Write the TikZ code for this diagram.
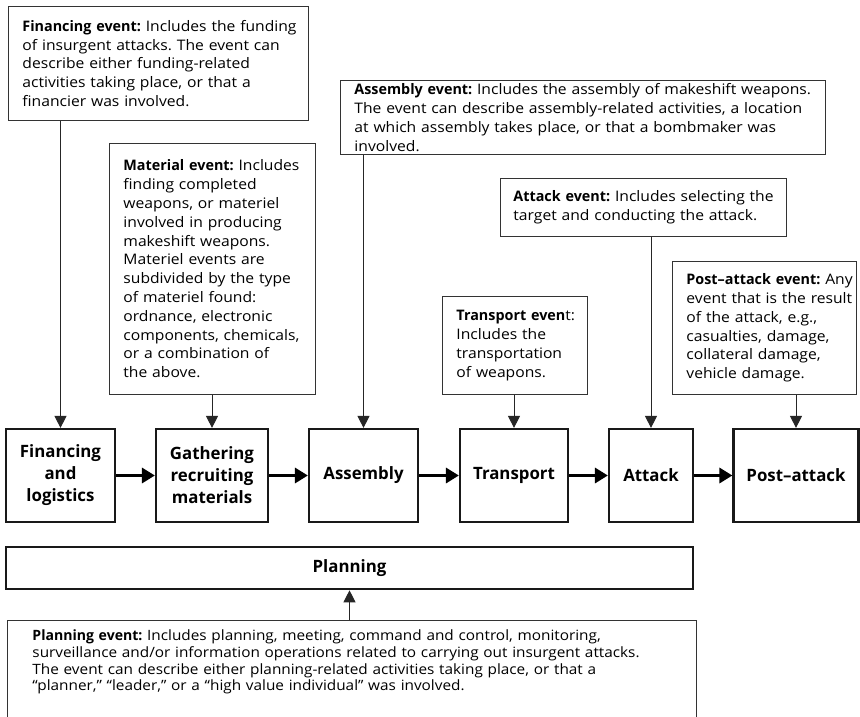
\documentclass[tikz,border=0pt]{standalone}
\usepackage{fontspec}
\setmainfont{Open Sans}[FakeStretch=1.08, BoldFeatures={FakeStretch=0.99}]
\usetikzlibrary{arrows.meta,positioning}
\frenchspacing

\tikzset{
  eventbox/.style={draw=black!80, line width=0.9pt, fill=white, anchor=north west,
    align=left, inner xsep=0pt, inner ysep=0pt, font=\fontsize{14.5}{18.8}\selectfont,
    execute at begin node={\leftskip=#1\rightskip=-14pt plus 1fil\relax}},
  eventbox/.default=14pt,
  stagebox/.style={draw=black!90, line width=2.2pt, align=center, inner sep=0pt,
    font=\fontsize{17}{22}\selectfont\bfseries},
  droparrow/.style={draw=black!85, line width=1pt, -{Triangle[length=12pt,width=12pt]}},
  flowarrow/.style={line width=3.8pt, -{Triangle[length=13pt,width=15pt]}}
}

\begin{document}
\begin{tikzpicture}[x=1pt, y=-1pt]
    \useasboundingbox (0,0) rectangle (860,717);

    % Event descriptions
    \node[eventbox, text width=300pt, minimum height=114pt] (finev) at (8,6)
      {\textbf{Financing event:} Includes the funding\\of insurgent attacks. The event can\\describe either funding-related\\activities taking place, or that a\\financier was involved.};
    \node[eventbox, text width=206pt, minimum height=251pt] (matev) at (109,143)
      {\textbf{Material event:} Includes\\finding completed\\weapons, or materiel\\involved in producing\\makeshift weapons.\\Materiel events are\\subdivided by the type\\of materiel found:\\ordnance, electronic\\components, chemicals,\\or a combination of\\the above.};
    \node[eventbox, text width=485pt, minimum height=74pt] (asmev) at (340,80)
      {\textbf{Assembly event:} Includes the assembly of makeshift weapons.\\The event can describe assembly-related activities, a location\\at which assembly takes place, or that a bombmaker was\\involved.};
    \node[eventbox=13pt, text width=286pt, minimum height=58pt] (attev) at (500,178)
      {\textbf{Attack event:} Includes selecting the\\target and conducting the attack.};
    \node[eventbox, text width=145pt, minimum height=98pt] (trnev) at (442,296)
      {\textbf{Transport even}t:\\Includes the\\transportation\\of weapons.};
    \node[eventbox, text width=184pt, minimum height=133pt] (pstev) at (672,261)
      {\textbf{Post--attack event:} Any\\event that is the result\\of the attack, e.g.,\\casualties, damage,\\collateral damage,\\vehicle damage.};
    \node[eventbox=25pt, text width=689pt, font=\fontsize{14.2}{16.8}\selectfont,
          text height=20pt, text depth=90pt] (plnev) at (7,620)
      {\textbf{Planning event:} Includes planning, meeting, command and control, monitoring,\\surveillance and/or information operations related to carrying out insurgent attacks.\\The event can describe either planning-related activities taking place, or that a\\``planner,'' ``leader,'' or a ``high value individual'' was involved.};

    % Stages
    \node[stagebox, minimum width=109pt, minimum height=93pt] (fin) at (60.5,475.5) {Financing\\and\\logistics};
    \node[stagebox, minimum width=112pt, minimum height=93pt] (gat) at (212,475.5) {Gathering\\recruiting\\materials};
    \node[stagebox, minimum width=109pt, minimum height=93pt] (asm) at (363.5,475.5) {Assembly};
    \node[stagebox, minimum width=108pt, minimum height=93pt] (trn) at (514,475.5) {Transport};
    \node[stagebox, minimum width=84pt, minimum height=93pt] (att) at (651,475.5) {Attack};
    \node[stagebox, minimum width=125pt, minimum height=93pt] (pst) at (796,475.5) {Post--attack};
    \node[stagebox, line width=2.6pt, minimum width=687pt, minimum height=42pt] (pln) at (349.5,568) {Planning};

    % Flow between stages
    \draw[flowarrow] (fin) -- (gat);
    \draw[flowarrow] (gat) -- (asm);
    \draw[flowarrow] (asm) -- (trn);
    \draw[flowarrow] (trn) -- (att);
    \draw[flowarrow] (att) -- (pst);

    % Events feeding stages
    \draw[droparrow] (finev.south -| fin.north) -- (fin.north);
    \draw[droparrow] (matev.south -| gat.north) -- (gat.north);
    \draw[droparrow] (asmev.south -| asm.north) -- (asm.north);
    \draw[droparrow] (trnev.south -| trn.north) -- (trn.north);
    \draw[droparrow] (attev.south -| att.north) -- (att.north);
    \draw[droparrow] (pstev.south -| pst.north) -- (pst.north);
    \draw[droparrow] (plnev.north -| pln.south) -- (pln.south);

\end{tikzpicture}
\end{document}
